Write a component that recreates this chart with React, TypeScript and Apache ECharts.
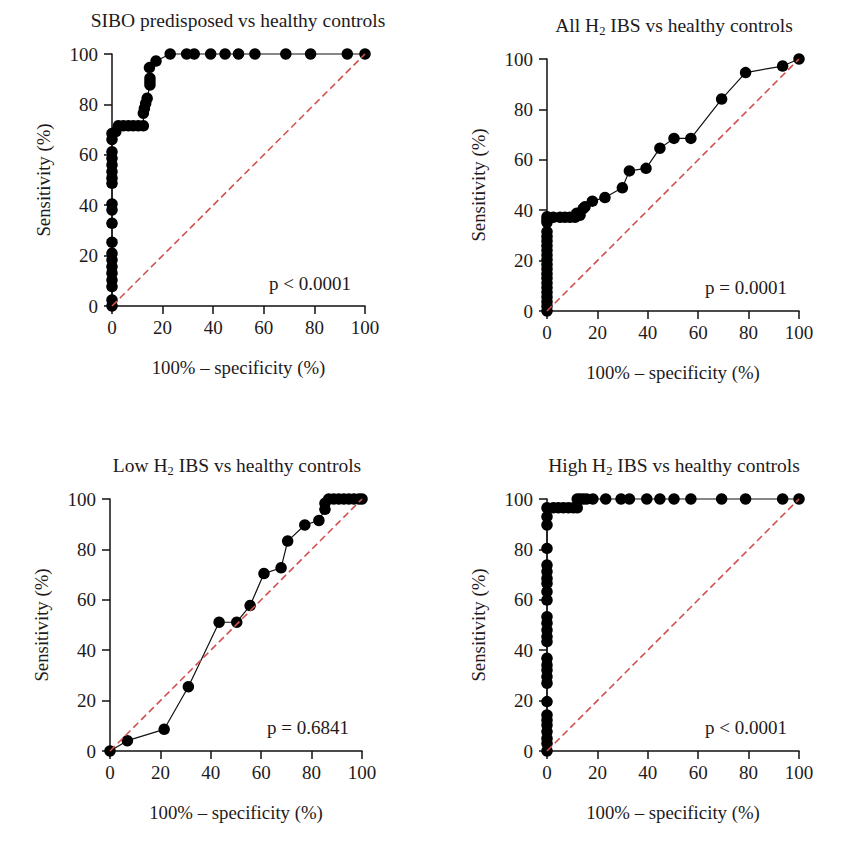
import React, { useEffect, useRef } from "react";
import * as echarts from "echarts";

// ---------- data ----------
// Panel A: SIBO predisposed vs healthy controls
const siboX = [
  0, 0, 0, 0, 0, 0, 0, 0, 0, 0, 0, 0, 0, 0, 0, 0, 0, 0, 0, 0,
  1.5, 2.5, 4.5, 6.5, 8.4, 10.4, 12.4,
  12.4, 12.8, 13.3, 13.9, 15, 15, 15, 14.8, 17.4,
  23, 29.5, 32.5, 39, 44.7, 50, 56.5, 68.7, 78.5, 93, 100,
];
const siboY = [
  0, 2.4, 7.7, 10.3, 13, 15.6, 18.3, 20.9, 25.3, 32.8, 38.1, 40.5, 48.7, 50.7, 53.3, 56, 58.6, 61.2, 66.1, 68.5,
  69.2, 71.5, 71.5, 71.5, 71.5, 71.5, 71.5,
  76.5, 78.4, 80.4, 82.4, 87.7, 89, 90.4, 94.6, 97.2,
  100, 100, 100, 100, 100, 100, 100, 100, 100, 100, 100,
];

// Panel B: All H2 IBS vs healthy controls
const allX = [
  0, 0, 0, 0, 0, 0, 0, 0, 0, 0, 0, 0, 0, 0, 0, 0, 0, 0, 0, 0, 0,
  2.5, 5.2, 7.1, 9.1, 11.1, 11.8, 13.1, 14.4, 15.1, 18, 23, 29.9, 32.7, 39.3, 44.8, 50.4, 57.1, 69.3, 78.8, 93.5, 100,
];
const allY = [
  0, 1.9, 3.7, 5.6, 7.4, 9.3, 11.1, 13, 14.8, 16.7, 18.5, 20.4, 22.2, 24.1, 25.9, 27.8, 29.6, 31.5, 35.2, 36.2, 37.4,
  37.2, 37.2, 37.2, 37.2, 37.2, 38.8, 38, 40.7, 41.4, 43.6, 45, 48.9, 55.6, 56.6, 64.6, 68.5, 68.5, 84.1, 94.6, 97.2, 100,
];

// Panel C: Low H2 IBS vs healthy controls
const lowX = [0, 6.9, 21.5, 31.1, 43.3, 50.3, 55.6, 61.1, 67.9, 70.5, 77.3, 82.9, 85.3, 85.3, 86.8, 88.8, 90.8, 92.8, 94.8, 96.8, 98.8, 100];
const lowY = [0, 4.1, 8.6, 25.5, 51.1, 51.1, 57.7, 70.4, 72.7, 83.3, 89.7, 91.5, 95.9, 98.3, 100, 100, 100, 100, 100, 100, 100, 100];

// Panel D: High H2 IBS vs healthy controls
const highX = [
  0, 0, 0, 0, 0, 0, 0, 0, 0, 0, 0, 0, 0, 0, 0, 0, 0, 0, 0, 0, 0, 0, 0, 0, 0, 0, 0, 0,
  2.5, 4.5, 6.5, 8.5, 10.5, 12,
  12, 13.1, 14.4, 15.7, 18.2, 23.3, 29.4, 32.7, 39.6, 44.8, 50.4, 57.1, 69.3, 78.8, 93.5, 100,
];
const highY = [
  0, 3, 5, 7.7, 10.3, 12.3, 14.3, 19.6, 26.9, 29.5, 32.1, 34.1, 36.8, 43.4, 45.4, 48, 50.7, 53.3, 59.9, 63.2, 66.5, 68.5, 71.2, 73.8, 80.4, 89.7, 93, 96.5,
  96.5, 96.5, 96.5, 96.5, 96.5, 96.5,
  100, 100, 100, 100, 100, 100, 100, 100, 100, 100, 100, 100, 100, 100, 100, 100,
];

const titles = [
  "SIBO predisposed vs healthy controls",
  "All H{sub|2} IBS vs healthy controls",
  "Low H{sub|2} IBS vs healthy controls",
  "High H{sub|2} IBS vs healthy controls",
];
const pValues = ["p < 0.0001", "p = 0.0001", "p = 0.6841", "p < 0.0001"];
const refLine = [0, 100];
const ticks = { min: 0, max: 100, interval: 20 };
const xName = "100% – specificity (%)";
const yName = "Sensitivity (%)";

// ---------- layout / style ----------
const FONT = '"Liberation Serif", "DejaVu Serif", serif';
const TXT = "#1e1a1b";
const grids = [
  { left: 112, top: 54, width: 253, height: 252 },
  { left: 547, top: 59, width: 252, height: 252 },
  { left: 110, top: 499, width: 252, height: 252 },
  { left: 547, top: 499, width: 252, height: 252 },
];
const titlePos = [
  [238, 20],
  [674, 25],
  [237, 465],
  [674, 465],
];
const pPos = [
  [351, 283],
  [787, 287],
  [349, 727],
  [787, 727],
];

const zip = (xs: number[], ys: number[]) => xs.map((x, i) => [x, ys[i]]);
const panels = [
  zip(siboX, siboY),
  zip(allX, allY),
  zip(lowX, lowY),
  zip(highX, highY),
];

function buildOption() {
  const axisLine = { show: true, onZero: false, lineStyle: { color: "#111", width: 1.5 } };
  const axisTick = { show: true, length: 8, lineStyle: { color: "#111", width: 1.5 } };
  const labelStyle = { fontSize: 19, fontFamily: FONT, color: TXT };
  const xAxis = grids.map((_, i) => ({
    type: "value",
    gridIndex: i,
    ...ticks,
    name: xName,
    nameLocation: "middle",
    nameGap: 52,
    nameTextStyle: { ...labelStyle, fontSize: 18.8 },
    axisLine,
    axisTick,
    axisLabel: { ...labelStyle, margin: 12 },
    splitLine: { show: false },
  }));
  const yAxis = grids.map((_, i) => ({
    type: "value",
    gridIndex: i,
    ...ticks,
    name: yName,
    nameLocation: "middle",
    nameGap: 59,
    nameTextStyle: { ...labelStyle, fontSize: 18.8 },
    axisLine,
    axisTick,
    axisLabel: { ...labelStyle, margin: 14 },
    splitLine: { show: false },
  }));
  const series: any[] = [];
  panels.forEach((data, i) => {
    series.push({
      type: "line",
      xAxisIndex: i,
      yAxisIndex: i,
      data,
      clip: false,
      symbol: "circle",
      symbolSize: 11.5,
      showAllSymbol: true,
      itemStyle: { color: "#000" },
      lineStyle: { color: "#111", width: 1.2 },
      z: 2,
    });
    series.push({
      type: "line",
      xAxisIndex: i,
      yAxisIndex: i,
      data: [
        [refLine[0], refLine[0]],
        [refLine[1], refLine[1]],
      ],
      clip: false,
      symbol: "none",
      lineStyle: { color: "#d0524c", width: 1.6, type: [7, 4] },
      z: 3,
    });
  });
  const graphic: any[] = [];
  titles.forEach((t, i) => {
    graphic.push({
      type: "text",
      x: titlePos[i][0],
      y: titlePos[i][1],
      style: {
        text: t,
        fontSize: 19.5,
        fontFamily: FONT,
        fill: TXT,
        align: "center",
        verticalAlign: "middle",
        rich: {
          sub: { fontSize: 12.5, fontFamily: FONT, fill: TXT, padding: [12, 0, 0, 0] },
        },
      },
    });
  });
  pValues.forEach((t, i) => {
    graphic.push({
      type: "text",
      x: pPos[i][0],
      y: pPos[i][1],
      style: {
        text: t,
        fontSize: 19,
        fontFamily: FONT,
        fill: TXT,
        align: "right",
        verticalAlign: "middle",
      },
    });
  });
  return {
    animation: false,
    backgroundColor: "#fff",
    grid: grids.map((g) => ({ ...g, containLabel: false })),
    xAxis,
    yAxis,
    series,
    graphic,
  };
}

export default function App() {
  const ref = useRef<HTMLDivElement>(null);
  useEffect(() => {
    const chart = echarts.init(ref.current as HTMLDivElement, null, { renderer: "svg" });
    chart.setOption(buildOption() as any);
    return () => chart.dispose();
  }, []);
  return (
    <div
      ref={ref}
      style={{ position: "fixed", left: 0, top: 0, width: 865, height: 844, background: "#fff" }}
    />
  );
}
